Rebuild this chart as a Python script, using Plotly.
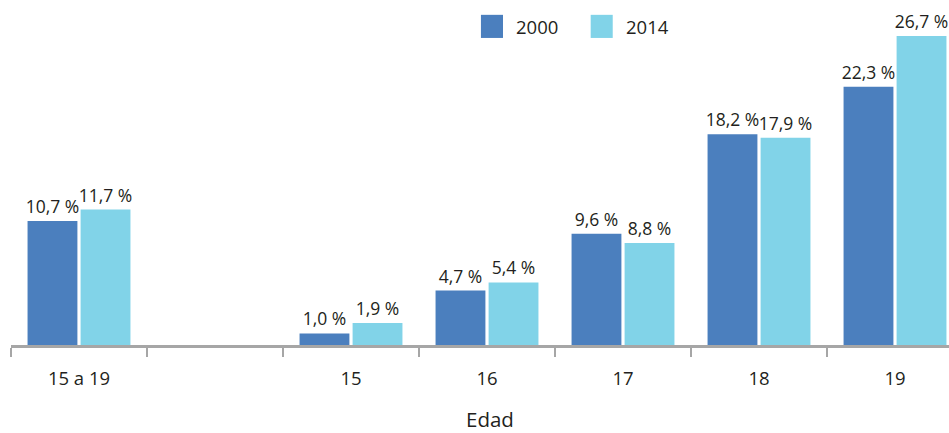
import plotly.graph_objects as go

# Age groups (the blank slot separates the aggregate group from single ages)
categories = ["15 a 19", " ", "15", "16", "17", "18", "19"]
values_2000 = [10.7, None, 1.0, 4.7, 9.6, 18.2, 22.3]
values_2014 = [11.7, None, 1.9, 5.4, 8.8, 17.9, 26.7]
series_names = ["2000", "2014"]
axis_title = "Edad"

color_2000 = "#4b7fbe"
color_2014 = "#81d3e8"
text_color = "#231f20"
font_family = "Open Sans"


def pct_labels(vals):
    return ["" if v is None else f"{v:.1f} %".replace(".", ",") for v in vals]


fig = go.Figure()
for name, vals, col in [(series_names[0], values_2000, color_2000),
                        (series_names[1], values_2014, color_2014)]:
    fig.add_trace(go.Bar(
        x=categories, y=vals, name=name, marker_color=col,
        marker_line_width=0,
        text=pct_labels(vals), textposition="outside", constraintext="none",
        textfont=dict(size=17.5, color=text_color, family=font_family),
        cliponaxis=False, showlegend=False,
    ))

# Legend drawn as squares + labels near the top of the plot area
legend_items = [(series_names[0], color_2000, 0.501), (series_names[1], color_2014, 0.618)]
shapes = []
annotations = []
for name, col, x0 in legend_items:
    shapes.append(dict(type="rect", xref="paper", yref="paper",
                       x0=x0, x1=x0 + 0.0235, y0=0.890, y1=0.957,
                       fillcolor=col, line_width=0))
    annotations.append(dict(text=name, xref="paper", yref="paper",
                            x=x0 + 0.0355, y=0.922, xanchor="left", yanchor="middle",
                            showarrow=False,
                            font=dict(size=18.5, color=text_color, family=font_family)))

# Axis title, placed slightly right of the plot centre
annotations.append(dict(text=axis_title, xref="paper", yref="paper",
                        x=0.5107, y=-0.215, xanchor="center", yanchor="middle",
                        showarrow=False,
                        font=dict(size=20.5, color=text_color, family=font_family)))

fig.update_layout(
    width=949, height=433,
    margin=dict(l=11, r=0, t=0, b=88),
    paper_bgcolor="white", plot_bgcolor="white",
    barmode="group", bargap=0.22, bargroupgap=0.06,
    shapes=shapes, annotations=annotations,
    xaxis=dict(
        type="category", range=[-0.5, 6.397],
        tickson="boundaries", ticks="outside", ticklen=9, tickwidth=1.5,
        tickcolor="#a6a6a6", showline=True, linecolor="#a6a6a6", linewidth=2.5,
        showgrid=False, ticklabelstandoff=15,
        tickfont=dict(size=18.5, color=text_color, family=font_family),
    ),
    yaxis=dict(range=[0, 29.8], visible=False, showgrid=False, zeroline=False),
)

fig.write_html("out.html")
